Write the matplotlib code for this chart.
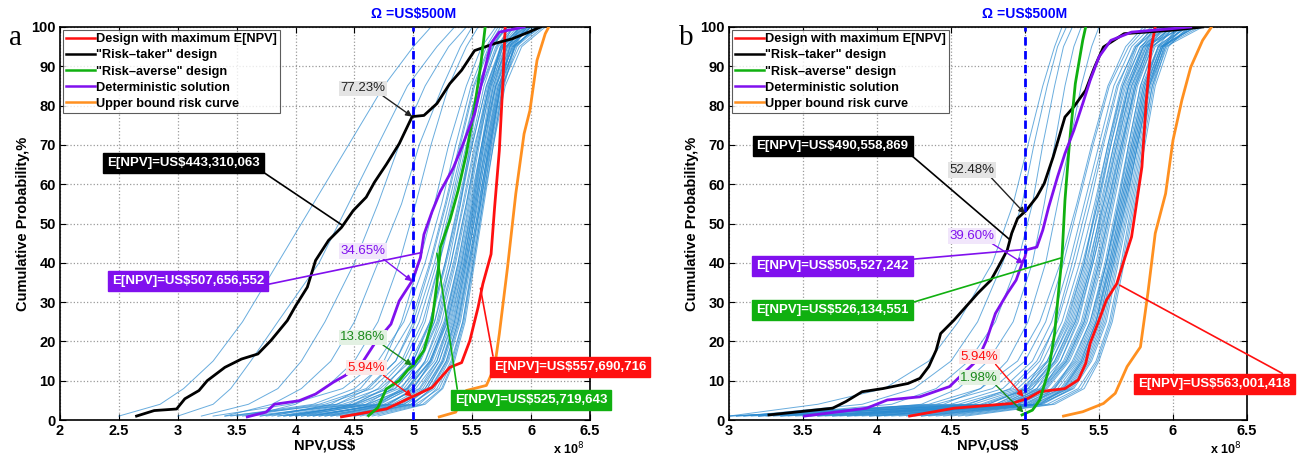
import matplotlib
matplotlib.use('Agg')
import matplotlib.pyplot as plt
from matplotlib.lines import Line2D

plt.rcParams['font.family'] = ['Liberation Sans', 'DejaVu Sans']

# ---------------- data ----------------
P_LEVELS = [1, 4, 8, 15, 25, 40, 55, 70, 85, 95, 100]   # cumulative probability, %

# panel a: thin blue risk curves, NPV (x 1e8) at P_LEVELS
A_BLUE = [
    [2.50, 2.85, 3.05, 3.30, 3.55, 3.85, 4.15, 4.45, 4.75, 5.00, 5.15],
    [3.00, 3.30, 3.45, 3.62, 3.85, 4.20, 4.45, 4.70, 4.95, 5.20, 5.35],
    [3.20, 3.60, 3.85, 4.05, 4.25, 4.50, 4.70, 4.88, 5.10, 5.30, 5.45],
    [3.40, 3.80, 4.05, 4.30, 4.50, 4.70, 4.90, 5.05, 5.25, 5.40, 5.50],
    [3.60, 4.00, 4.25, 4.50, 4.70, 4.88, 5.02, 5.15, 5.30, 5.45, 5.55],
    [3.80, 4.30, 4.55, 4.75, 4.90, 5.05, 5.18, 5.30, 5.45, 5.58, 5.70],
    [3.50, 4.20, 4.60, 4.85, 5.00, 5.15, 5.28, 5.40, 5.52, 5.65, 5.80],
    [4.00, 4.50, 4.75, 4.95, 5.10, 5.22, 5.33, 5.45, 5.58, 5.70, 5.85],
    [3.70, 4.40, 4.80, 5.00, 5.15, 5.28, 5.40, 5.50, 5.62, 5.75, 5.90],
    [4.20, 4.70, 4.90, 5.05, 5.20, 5.32, 5.42, 5.52, 5.65, 5.78, 5.95],
    [3.90, 4.60, 4.95, 5.10, 5.22, 5.35, 5.45, 5.55, 5.66, 5.80, 6.00],
    [4.30, 4.80, 5.00, 5.15, 5.27, 5.38, 5.48, 5.58, 5.70, 5.85, 6.05],
    [4.10, 4.75, 5.05, 5.20, 5.30, 5.42, 5.52, 5.62, 5.72, 5.87, 6.08],
    [4.40, 4.90, 5.10, 5.25, 5.35, 5.45, 5.55, 5.65, 5.75, 5.90, 6.10],
    [3.60, 4.50, 4.85, 5.05, 5.18, 5.30, 5.40, 5.48, 5.57, 5.68, 5.78],
    [4.50, 5.00, 5.15, 5.28, 5.38, 5.48, 5.57, 5.66, 5.76, 5.88, 6.02],
    [4.20, 4.85, 5.08, 5.22, 5.33, 5.44, 5.53, 5.61, 5.70, 5.80, 5.92],
    [4.60, 5.05, 5.20, 5.32, 5.42, 5.50, 5.58, 5.67, 5.77, 5.86, 5.96],
    [3.90, 4.55, 4.88, 5.12, 5.26, 5.38, 5.47, 5.56, 5.65, 5.74, 5.88],
    [4.00, 4.65, 4.95, 5.15, 5.28, 5.40, 5.50, 5.59, 5.68, 5.78, 5.98],
    [4.35, 4.95, 5.12, 5.25, 5.36, 5.46, 5.54, 5.63, 5.72, 5.84, 6.06],
    [4.70, 5.10, 5.25, 5.35, 5.44, 5.52, 5.60, 5.68, 5.76, 5.85, 5.95],
    [3.75, 4.45, 4.70, 4.92, 5.08, 5.22, 5.35, 5.46, 5.58, 5.72, 5.86],
    [4.15, 4.70, 4.98, 5.18, 5.31, 5.43, 5.52, 5.60, 5.69, 5.79, 5.90],
    [3.40, 4.35, 4.72, 4.98, 5.14, 5.27, 5.38, 5.49, 5.60, 5.71, 5.82],
    [4.45, 4.98, 5.18, 5.30, 5.40, 5.49, 5.57, 5.65, 5.74, 5.83, 6.00],
    [3.85, 4.62, 4.92, 5.10, 5.24, 5.36, 5.46, 5.55, 5.64, 5.76, 5.94],
    [4.55, 5.02, 5.22, 5.33, 5.42, 5.51, 5.59, 5.68, 5.78, 5.92, 6.12],
    [4.05, 4.78, 5.02, 5.20, 5.32, 5.43, 5.51, 5.59, 5.67, 5.76, 5.84],
    [4.25, 4.88, 5.10, 5.24, 5.35, 5.45, 5.54, 5.63, 5.73, 5.82, 5.97],
    [3.95, 4.68, 4.94, 5.14, 5.29, 5.41, 5.50, 5.58, 5.66, 5.74, 5.80],
    [4.30, 4.92, 5.14, 5.28, 5.38, 5.47, 5.56, 5.64, 5.74, 5.86, 6.04],
    [3.55, 4.25, 4.65, 4.90, 5.05, 5.20, 5.32, 5.43, 5.55, 5.68, 5.76],
    [4.65, 5.08, 5.24, 5.34, 5.43, 5.51, 5.59, 5.66, 5.74, 5.82, 5.90],
    [4.10, 4.82, 5.06, 5.22, 5.34, 5.44, 5.53, 5.62, 5.71, 5.81, 5.99],
    [3.70, 4.35, 4.62, 4.85, 5.02, 5.18, 5.30, 5.42, 5.55, 5.67, 5.80],
    [4.05, 4.60, 4.82, 5.00, 5.14, 5.27, 5.39, 5.50, 5.62, 5.74, 5.92],
    [3.45, 4.15, 4.50, 4.78, 4.98, 5.14, 5.27, 5.39, 5.51, 5.64, 5.74],
    [4.25, 4.78, 5.00, 5.16, 5.29, 5.41, 5.51, 5.60, 5.70, 5.82, 6.00],
    [3.85, 4.48, 4.78, 5.02, 5.18, 5.32, 5.43, 5.53, 5.63, 5.75, 5.95],
    [4.40, 4.92, 5.12, 5.26, 5.37, 5.47, 5.56, 5.64, 5.73, 5.84, 6.08],
    [3.30, 3.95, 4.40, 4.70, 4.92, 5.10, 5.24, 5.36, 5.49, 5.62, 5.72],
    [4.15, 4.72, 4.96, 5.14, 5.27, 5.39, 5.49, 5.58, 5.68, 5.79, 5.96],
    [3.95, 4.52, 4.84, 5.06, 5.21, 5.34, 5.45, 5.54, 5.64, 5.76, 5.90],
    [4.50, 4.98, 5.16, 5.29, 5.39, 5.48, 5.57, 5.65, 5.74, 5.86, 6.04],
]

# panel a: highlighted curves
A_RED_X = [4.39, 4.77, 4.99, 5.16, 5.31, 5.41, 5.48, 5.55, 5.59, 5.66, 5.69, 5.73, 5.76, 5.78]
A_RED_Y = [0.8, 2.8, 5.9, 8.3, 13.4, 14.6, 20.2, 28.7, 34.6, 42.2, 54.1, 68.5, 85.6, 100]
A_BLACK_X = [2.65, 2.80, 2.99, 3.06, 3.18, 3.25, 3.40, 3.54, 3.68, 3.79, 3.93, 4.00, 4.10, 4.17,
             4.28, 4.39, 4.49, 4.60, 4.67, 4.77, 4.88, 4.99, 5.09, 5.20, 5.31, 5.41, 5.52, 5.69,
             5.84, 5.98, 6.08]
A_BLACK_Y = [1, 2.4, 2.8, 5.4, 7.5, 10, 13.4, 15.5, 16.8, 20.2, 25.3, 29, 33.8, 40.6,
             45.7, 49, 53.3, 56.7, 60.5, 65, 70.3, 77.2, 77.5, 80.5, 85.6, 89, 94, 95.8,
             97, 98.7, 100]
A_GREEN_X = [4.62, 4.70, 4.77, 4.88, 4.95, 5.00, 5.09, 5.16, 5.20, 5.23, 5.31, 5.38, 5.45, 5.52, 5.57, 5.61]
A_GREEN_Y = [1.1, 3.2, 7.9, 10, 12.6, 13.9, 17.7, 25.3, 34.7, 44, 50.8, 58.4, 67.7, 79.6, 89.8, 100]
A_PURPLE_X = [3.59, 3.75, 3.82, 4.03, 4.17, 4.32, 4.42, 4.56, 4.67, 4.81, 4.88, 4.99, 5.06, 5.09,
              5.16, 5.23, 5.34, 5.41, 5.52, 5.59, 5.66, 5.73, 5.94]
A_PURPLE_Y = [0.8, 2, 4, 4.9, 6.6, 9.6, 11.3, 14.3, 19.4, 24.4, 30.3, 35.4, 41.3, 47.2,
              53.1, 58.2, 64.2, 69.3, 77.9, 87.2, 95.8, 98.7, 100]
A_ORANGE_X = [5.22, 5.36, 5.45, 5.62, 5.69, 5.73, 5.80, 5.87, 5.94, 5.99, 6.05, 6.12, 6.15]
A_ORANGE_Y = [0.8, 2, 7.5, 8.8, 13.4, 21.9, 38.9, 57.6, 72.8, 78.8, 91.5, 98.3, 100]

# panel b: thin blue risk curves
B_BLUE = [
    [3.00, 3.60, 4.05, 4.35, 4.55, 4.78, 4.92, 5.02, 5.12, 5.20, 5.25],
    [3.10, 3.90, 4.25, 4.50, 4.68, 4.85, 4.98, 5.06, 5.15, 5.22, 5.28],
    [3.20, 4.10, 4.40, 4.62, 4.80, 4.95, 5.05, 5.12, 5.20, 5.26, 5.32],
    [3.40, 4.30, 4.55, 4.75, 4.92, 5.05, 5.13, 5.20, 5.27, 5.33, 5.38],
    [3.05, 4.45, 4.70, 4.88, 5.02, 5.14, 5.22, 5.30, 5.38, 5.45, 5.50],
    [3.00, 4.60, 4.95, 5.15, 5.28, 5.40, 5.48, 5.56, 5.65, 5.75, 5.90],
    [3.30, 4.80, 5.05, 5.22, 5.34, 5.45, 5.53, 5.61, 5.70, 5.80, 5.95],
    [3.50, 4.90, 5.12, 5.28, 5.40, 5.50, 5.58, 5.66, 5.74, 5.85, 6.05],
    [3.70, 4.95, 5.18, 5.33, 5.44, 5.54, 5.62, 5.70, 5.78, 5.88, 6.10],
    [3.90, 5.00, 5.25, 5.38, 5.48, 5.57, 5.65, 5.73, 5.81, 5.92, 6.15],
    [4.10, 5.05, 5.30, 5.42, 5.52, 5.60, 5.68, 5.76, 5.84, 5.95, 6.20],
    [3.15, 4.70, 5.00, 5.18, 5.31, 5.42, 5.50, 5.58, 5.67, 5.78, 5.92],
    [3.60, 4.85, 5.10, 5.26, 5.38, 5.48, 5.56, 5.64, 5.72, 5.82, 6.00],
    [4.30, 5.10, 5.33, 5.45, 5.55, 5.63, 5.71, 5.78, 5.86, 5.96, 6.12],
    [4.50, 5.15, 5.36, 5.48, 5.57, 5.65, 5.72, 5.79, 5.86, 5.94, 6.08],
    [3.80, 4.92, 5.15, 5.30, 5.42, 5.52, 5.60, 5.68, 5.76, 5.86, 6.02],
    [3.25, 4.75, 5.02, 5.20, 5.33, 5.44, 5.52, 5.60, 5.69, 5.79, 5.88],
    [4.00, 5.00, 5.20, 5.35, 5.46, 5.55, 5.63, 5.71, 5.79, 5.90, 6.06],
    [4.20, 5.08, 5.28, 5.40, 5.50, 5.59, 5.67, 5.75, 5.83, 5.93, 6.14],
    [3.45, 4.82, 5.08, 5.24, 5.36, 5.46, 5.55, 5.63, 5.71, 5.81, 5.97],
    [4.60, 5.20, 5.40, 5.50, 5.59, 5.67, 5.74, 5.81, 5.88, 5.97, 6.10],
    [3.35, 4.65, 4.98, 5.16, 5.29, 5.40, 5.49, 5.57, 5.66, 5.76, 5.86],
    [3.95, 4.98, 5.22, 5.36, 5.47, 5.56, 5.64, 5.72, 5.80, 5.91, 6.16],
    [4.40, 5.12, 5.32, 5.44, 5.54, 5.62, 5.70, 5.77, 5.85, 5.94, 6.04],
    [3.75, 4.88, 5.14, 5.29, 5.41, 5.51, 5.59, 5.67, 5.75, 5.84, 5.94],
    [3.55, 4.86, 5.11, 5.27, 5.39, 5.49, 5.57, 5.65, 5.73, 5.83, 6.02],
    [4.15, 5.06, 5.27, 5.39, 5.49, 5.58, 5.66, 5.74, 5.82, 5.92, 6.08],
    [3.85, 4.96, 5.19, 5.34, 5.45, 5.55, 5.63, 5.70, 5.78, 5.87, 5.98],
    [4.35, 5.11, 5.31, 5.43, 5.53, 5.61, 5.69, 5.76, 5.84, 5.93, 6.18],
    [3.65, 4.90, 5.13, 5.28, 5.40, 5.50, 5.58, 5.66, 5.74, 5.83, 5.90],
    [4.05, 5.02, 5.24, 5.37, 5.48, 5.57, 5.65, 5.73, 5.81, 5.90, 6.00],
    [4.55, 5.18, 5.38, 5.49, 5.58, 5.66, 5.73, 5.80, 5.87, 5.95, 6.06],
    [3.20, 4.72, 5.03, 5.21, 5.34, 5.45, 5.54, 5.62, 5.70, 5.80, 5.93],
    [3.95, 5.03, 5.26, 5.39, 5.50, 5.59, 5.67, 5.75, 5.83, 5.93, 6.12],
    [4.25, 5.09, 5.29, 5.41, 5.51, 5.60, 5.68, 5.76, 5.84, 5.93, 6.03],
    [3.10, 4.50, 4.85, 5.05, 5.18, 5.30, 5.40, 5.50, 5.60, 5.72, 5.85],
    [3.35, 4.62, 4.90, 5.08, 5.22, 5.34, 5.44, 5.53, 5.63, 5.74, 5.88],
    [3.00, 4.40, 4.78, 5.00, 5.14, 5.26, 5.36, 5.46, 5.57, 5.70, 5.82],
    [3.50, 4.75, 5.00, 5.12, 5.25, 5.37, 5.47, 5.56, 5.66, 5.78, 5.96],
    [3.70, 4.85, 5.05, 5.18, 5.30, 5.41, 5.51, 5.60, 5.70, 5.82, 6.00],
    [4.00, 4.95, 5.12, 5.24, 5.35, 5.46, 5.56, 5.65, 5.75, 5.86, 6.05],
    [3.20, 4.55, 4.92, 5.10, 5.21, 5.32, 5.42, 5.52, 5.62, 5.75, 5.92],
    [4.30, 5.05, 5.20, 5.32, 5.44, 5.55, 5.64, 5.72, 5.80, 5.90, 6.10],
    [3.80, 4.90, 5.08, 5.20, 5.32, 5.43, 5.53, 5.62, 5.72, 5.84, 5.98],
    [3.05, 4.35, 4.70, 4.95, 5.10, 5.24, 5.35, 5.45, 5.56, 5.68, 5.80],
    [4.45, 5.10, 5.26, 5.38, 5.48, 5.58, 5.66, 5.74, 5.82, 5.92, 6.15],
    [3.60, 4.80, 5.02, 5.15, 5.27, 5.39, 5.49, 5.58, 5.68, 5.80, 6.08],
]

B_RED_X = [4.22, 4.52, 4.91, 5.02, 5.10, 5.27, 5.36, 5.41, 5.44, 5.50, 5.55, 5.62, 5.67, 5.72,
           5.75, 5.79, 5.82, 5.85, 5.88]
B_RED_Y = [1, 3, 4.2, 5.5, 7.2, 8, 10.2, 14.4, 19.5, 25.4, 30.5, 34.7, 40.7, 46.6,
           54.2, 64.4, 81.4, 94.1, 100]
B_BLACK_X = [3.27, 3.70, 3.79, 3.90, 4.04, 4.21, 4.29, 4.35, 4.40, 4.43, 4.52, 4.60, 4.68, 4.77,
             4.82, 4.88, 4.91, 4.95, 5.01, 5.08, 5.13, 5.19, 5.27, 5.33, 5.41, 5.47, 5.53, 5.67,
             6.00, 6.20]
B_BLACK_Y = [1.3, 3, 4.7, 7.2, 8, 9.3, 10.6, 13.6, 17.8, 22, 25.4, 28.8, 32.2, 35.6,
             39, 43.2, 47.5, 51.3, 53.4, 56.8, 60.2, 66.9, 77.1, 79.7, 83.9, 89.8, 94.9, 98.3,
             99.2, 100]
B_GREEN_X = [4.98, 5.05, 5.10, 5.16, 5.20, 5.23, 5.25, 5.27, 5.30, 5.34, 5.39, 5.41]
B_GREEN_Y = [1.3, 2.5, 5.1, 12.7, 22, 33.9, 41.5, 55.9, 70.3, 85.6, 96.6, 100]
B_PURPLE_X = [3.51, 3.93, 4.07, 4.29, 4.49, 4.57, 4.68, 4.74, 4.80, 4.88, 4.94, 4.98, 5.00, 5.01,
              5.08, 5.12, 5.16, 5.22, 5.27, 5.33, 5.39, 5.44, 5.50, 5.58, 5.72, 6.12]
B_PURPLE_Y = [1, 3, 5.1, 5.9, 8.5, 11.4, 15.3, 20.3, 27.1, 32.2, 35.6, 39.8, 41.5, 43.3,
              44, 48.3, 54.2, 61.9, 67.8, 73.7, 80.5, 86.4, 92.4, 96.6, 98.7, 100]
B_ORANGE_X = [5.26, 5.39, 5.53, 5.61, 5.69, 5.78, 5.83, 5.88, 5.95, 6.00, 6.06, 6.12, 6.20, 6.26]
B_ORANGE_Y = [1, 2.1, 4.2, 6.8, 13.6, 18.6, 32.2, 47.5, 57.6, 71.2, 81.4, 89.8, 96.6, 100]

LEGEND_LABELS = ['Design with maximum E[NPV]', '"Risk\u2013taker" design',
                 '"Risk\u2013averse" design', 'Deterministic solution', 'Upper bound risk curve']
A_XTICKS = [2, 2.5, 3, 3.5, 4, 4.5, 5, 5.5, 6, 6.5]
A_XTICK_LABELS = ['2', '2.5', '3', '3.5', '4', '4.5', '5', '5.5', '6', '6.5']
B_XTICKS = [3, 3.5, 4, 4.5, 5, 5.5, 6, 6.5]
B_XTICK_LABELS = ['3', '3.5', '4', '4.5', '5', '5.5', '6', '6.5']
YTICKS = [0, 10, 20, 30, 40, 50, 60, 70, 80, 90, 100]
OMEGA = 5.0

RED = '#ff1010'
BLACK = '#000000'
GREEN = '#10b010'
PURPLE = '#8010ee'
ORANGE = '#ff9020'
BLUE_THIN = '#2a8ad0'

fig = plt.figure(figsize=(12.99, 4.59), dpi=100)
W, H = 1299, 459
axa = fig.add_axes([60 / W, 39 / H, 530 / W, 393 / H])
axb = fig.add_axes([729 / W, 39 / H, 518 / W, 393 / H])


def setup(ax, blue, curves, xlim, xticks, xticklabels):
    for xs in blue:
        ax.plot(xs, P_LEVELS, color=BLUE_THIN, lw=0.7, alpha=0.7, zorder=2)
    handles = []
    for (xs, ys, c) in curves:
        ax.plot(xs, ys, color=c, lw=2.0, zorder=4)
        handles.append(Line2D([], [], color=c, lw=1.8))
    ax.axvline(OMEGA, color='#0000ff', lw=2.0, ls=(0, (3, 2)), zorder=6)
    ax.set_xlim(*xlim)
    ax.set_ylim(0, 100)
    ax.set_xticks(xticks)
    ax.set_xticklabels(xticklabels)
    ax.set_yticks(YTICKS)
    ax.grid(True, ls=':', color='#9a9a9a', lw=0.9)
    ax.tick_params(direction='in', top=True, right=True, length=4, labelsize=10.5, pad=3)
    for lab in ax.get_xticklabels() + ax.get_yticklabels():
        lab.set_fontweight('bold')
    for sp in ax.spines.values():
        sp.set_linewidth(1.2)
    ax.set_xlabel('NPV,US$', fontsize=10.5, fontweight='bold', labelpad=0)
    ax.set_ylabel('Cumulative Probability,%', fontsize=10.5, fontweight='bold', labelpad=1)
    leg = ax.legend(handles, LEGEND_LABELS, loc='upper left', fontsize=9.2, frameon=True,
                    fancybox=False, edgecolor='#333333', handlelength=2.2, handletextpad=0.1,
                    labelspacing=0.32, borderpad=0.25, borderaxespad=0.25)
    leg.get_frame().set_linewidth(0.8)
    leg.set_zorder(8)
    for t in leg.get_texts():
        t.set_fontweight('bold')
    ax.text(OMEGA, 101.5, '\u03a9 =US$500M', color='#0000ff', fontsize=10, fontweight='bold',
            ha='center', va='bottom', transform=ax.transData)
    ax.text(0.99, -0.075, r'x 10$^{8}$', transform=ax.transAxes, ha='right', va='center',
            fontsize=9, fontweight='bold')


def pct(ax, text, txy, xy, color, bg):
    ax.annotate(text, xy=xy, xytext=txy, color=color, fontsize=9.5, ha='center', va='center',
                bbox=dict(boxstyle='square,pad=0.12', fc=bg, ec='none'),
                arrowprops=dict(arrowstyle='-|>', color=color, lw=1.0, mutation_scale=9,
                                shrinkA=0, shrinkB=0, relpos=(0.9, 0.0)),
                zorder=9)


def box(ax, text, txy, xy, color, relpos):
    ax.annotate(text, xy=xy, xytext=txy, color='white', fontsize=9.5, fontweight='bold',
                ha='center', va='center',
                bbox=dict(boxstyle='square,pad=0.3', fc=color, ec=color),
                arrowprops=dict(arrowstyle='-', color=color, lw=1.2, shrinkA=0, shrinkB=0,
                                relpos=relpos),
                annotation_clip=False, zorder=9)


setup(axa, A_BLUE,
      [(A_RED_X, A_RED_Y, RED), (A_BLACK_X, A_BLACK_Y, BLACK), (A_GREEN_X, A_GREEN_Y, GREEN),
       (A_PURPLE_X, A_PURPLE_Y, PURPLE), (A_ORANGE_X, A_ORANGE_Y, ORANGE)],
      (2, 6.5), A_XTICKS, A_XTICK_LABELS)
setup(axb, B_BLUE,
      [(B_RED_X, B_RED_Y, RED), (B_BLACK_X, B_BLACK_Y, BLACK), (B_GREEN_X, B_GREEN_Y, GREEN),
       (B_PURPLE_X, B_PURPLE_Y, PURPLE), (B_ORANGE_X, B_ORANGE_Y, ORANGE)],
      (3, 6.5), B_XTICKS, B_XTICK_LABELS)

# panel a annotations
pct(axa, '77.23%', (4.57, 84.4), (4.99, 77.2), '#222222', '#e4e4e4')
pct(axa, '34.65%', (4.57, 43.0), (4.99, 35.3), PURPLE, '#f1e6fb')
pct(axa, '13.86%', (4.57, 21.0), (4.99, 13.9), '#1a8a1a', '#e3f1e3')
pct(axa, '5.94%', (4.60, 13.3), (4.99, 6.0), RED, '#fbe8e8')
box(axa, 'E[NPV]=US$443,310,063', (3.05, 65.4), (4.40, 49.5), BLACK, (0.99, 0.0))
box(axa, 'E[NPV]=US$507,656,552', (3.09, 35.4), (5.07, 42.6), PURPLE, (1.0, 0.15))
box(axa, 'E[NPV]=US$557,690,716', (6.33, 13.6), (5.57, 33.5), RED, (0.0, 1.0))
box(axa, 'E[NPV]=US$525,719,643', (6.00, 5.2), (5.20, 42.4), GREEN, (0.02, 1.0))

# panel b annotations
pct(axb, '52.48%', (4.64, 63.6), (5.0, 52.5), '#222222', '#e4e4e4')
pct(axb, '39.60%', (4.64, 46.8), (4.99, 39.8), PURPLE, '#f1e6fb')
pct(axb, '5.94%', (4.69, 16.1), (4.99, 5.9), RED, '#fbe8e8')
pct(axb, '1.98%', (4.69, 10.8), (4.99, 1.9), '#1a8a1a', '#e3f1e3')
box(axb, 'E[NPV]=US$490,558,869', (3.70, 69.8), (4.90, 45.8), BLACK, (0.99, 0.0))
box(axb, 'E[NPV]=US$505,527,242', (3.70, 39.3), (5.0, 43.4), PURPLE, (1.0, 1.0))
box(axb, 'E[NPV]=US$526,134,551', (3.70, 28.1), (5.24, 41.2), GREEN, (1.0, 1.0))
box(axb, 'E[NPV]=US$563,001,418', (6.28, 9.2), (5.64, 34.3), RED, (1.0, 1.0))

fig.text(15 / W, 1 - 38 / H, 'a', family='Liberation Serif', fontsize=21, ha='center', va='center')
fig.text(686 / W, 1 - 38 / H, 'b', family='Liberation Serif', fontsize=21, ha='center', va='center')

fig.savefig('out.png', dpi=100)
